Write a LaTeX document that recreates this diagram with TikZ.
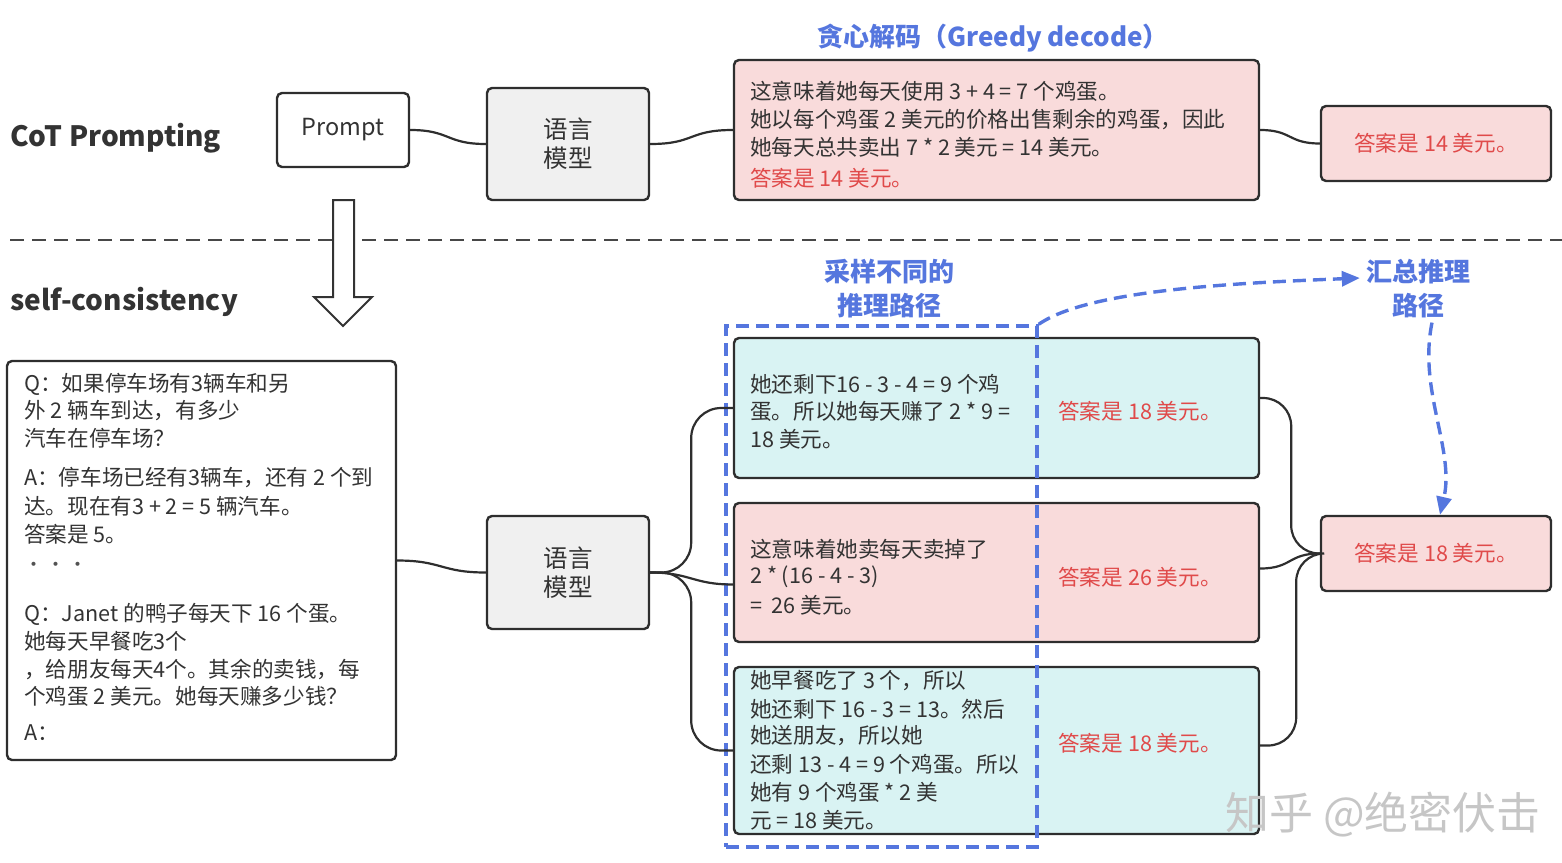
\documentclass[tikz,border=0pt]{standalone}
\usepackage{fontspec}
\setmainfont{Noto Sans CJK SC}
\usetikzlibrary{arrows.meta}
\definecolor{ink}{HTML}{333333}
\definecolor{bord}{HTML}{2E2E2E}
\definecolor{blu}{HTML}{5576DE}
\definecolor{redt}{HTML}{E04A4A}
\definecolor{pinkf}{HTML}{F9DBDB}
\definecolor{cyanf}{HTML}{D9F3F3}
\definecolor{grayf}{HTML}{F0F0F0}
\begin{document}
\begin{tikzpicture}[x=1pt,y=-1pt,
  box/.style={draw=bord, line width=2.4pt, rounded corners=5pt, inner sep=0pt},
  conn/.style={draw=bord, line width=2.2pt},
  txt/.style={font=\fontsize{21.6}{27}\selectfont, text=ink, inner sep=0pt, anchor=west},
  anstxt/.style={font=\fontsize{21.6}{27}\selectfont, text=redt, inner sep=0pt},
  bluelbl/.style={font=\fontsize{26}{34}\selectfont\bfseries, text=blu, align=center, inner sep=0pt},
  bdash/.style={draw=blu, line width=3.4pt, dash pattern=on 13pt off 7pt},
  sect/.style={font=\fontsize{28}{34}\selectfont\bfseries, text=ink, inner sep=0pt, anchor=west},
]
\useasboundingbox (0,0) rectangle (1562,862);

% divider
\draw[draw=ink!90, line width=2.2pt, dash pattern=on 14pt off 8pt] (10,240) -- (1562,240);

% section titles
\node[sect] (cot) at (10,138) {CoT Prompting};
\node[sect] (sc) at (10,302) {self-consistency};

% hollow arrow
\draw[draw=ink, line width=2pt, fill=white, line join=miter]
  (333,200) -- (354,200) -- (354,297) -- (372,297) -- (343,326) -- (314,297) -- (333,297) -- cycle;

% ---- top row ----
\node[box, fill=white, minimum width=132pt, minimum height=74pt,
      font=\fontsize{23.5}{28}\selectfont, text=ink] (prompt) at (343,130) {Prompt};
\node[box, fill=grayf, minimum width=162pt, minimum height=112pt, align=center,
      font=\fontsize{24.5}{29}\selectfont, text=ink] (lm1) at (568,144) {语言\\模型};
\node[box, fill=pinkf, minimum width=525pt, minimum height=140pt] (greedy) at (996.5,130) {};
\node[box, fill=pinkf, minimum width=230pt, minimum height=75pt,
      font=\fontsize{21.6}{27}\selectfont, text=redt] (ans1) at (1436,143.5) {答案是 14 美元。};
\node[bluelbl] (gtitle) at (993,38) {贪心解码（Greedy decode）};

\node[txt] (g1) at (750,91) {这意味着她每天使用 3 + 4 = 7 个鸡蛋。};
\node[txt] (g2) at (750,119) {她以每个鸡蛋 2 美元的价格出售剩余的鸡蛋，因此};
\node[txt] (g3) at (750,147) {她每天总共卖出 7 * 2 美元 = 14 美元。};
\node[txt, text=redt] (g4) at (750,178) {答案是 14 美元。};

\draw[conn] (prompt.east) .. controls +(40,0) and +(-40,0) .. (lm1.west);
\draw[conn] (lm1.east) .. controls +(45,0) and +(-45,0) .. (greedy.west);
\draw[conn] (greedy.east) .. controls +(32,0) and +(-32,0) .. (ans1.west);

% ---- bottom row ----
\node[box, fill=white, minimum width=389pt, minimum height=399pt] (left) at (201.5,560.5) {};
\foreach \s/\yy [count=\i] in {
  {Q：如果停车场有3辆车和另}/384,
  {外 2 辆车到达，有多少}/411,
  {汽车在停车场？}/438,
  {A：停车场已经有3辆车，还有 2 个到}/478,
  {达。现在有3 + 2 = 5 辆汽车。}/506,
  {答案是 5。}/534,
  {Q：Janet 的鸭子每天下 16 个蛋。}/614,
  {她每天早餐吃3个}/641,
  {，给朋友每天4个。其余的卖钱，每}/669,
  {个鸡蛋 2 美元。她每天赚多少钱？}/696,
  {A：}/733}
  \node[txt, name=q\i] at (24,\yy) {\s};
\node[txt, font=\fontsize{19}{20}\selectfont, text=ink!85] (dots) at (24,567) {•\,•\,•};

\node[box, fill=grayf, minimum width=162pt, minimum height=113pt, align=center,
      font=\fontsize{24.5}{29}\selectfont, text=ink] (lm2) at (568,572.5) {语言\\模型};

\node[box, fill=cyanf, minimum width=525pt, minimum height=140pt] (p1) at (996.5,408) {};
\node[box, fill=pinkf, minimum width=525pt, minimum height=139pt] (p2) at (996.5,572.5) {};
\node[box, fill=cyanf, minimum width=525pt, minimum height=167pt] (p3) at (996.5,750.5) {};
\node[box, fill=pinkf, minimum width=230pt, minimum height=75pt,
      font=\fontsize{21.6}{27}\selectfont, text=redt] (fin) at (1436,553.5) {答案是 18 美元。};

% sampling frame
\node[bdash, minimum width=311pt, minimum height=521pt, inner sep=0pt] (samp) at (881.5,586.5) {};

\foreach \s/\yy [count=\i] in {
  {她还剩下16 - 3 - 4 = 9 个鸡}/384,
  {蛋。所以她每天赚了 2 * 9 =}/411,
  {18 美元。}/439}
  \node[txt, name=a\i] at (750,\yy) {\s};
\foreach \s/\yy [count=\i] in {
  {这意味着她卖每天卖掉了}/549,
  {2 * (16 - 4 - 3)}/577,
  {=\ \ 26 美元。}/605}
  \node[txt, name=b\i] at (750,\yy) {\s};
\foreach \s/\yy [count=\i] in {
  {她早餐吃了 3 个，所以}/681,
  {她还剩下 16 - 3 = 13。然后}/709,
  {她送朋友，所以她}/736,
  {还剩 13 - 4 = 9 个鸡蛋。所以}/764,
  {她有 9 个鸡蛋 * 2 美}/792,
  {元 = 18 美元。}/820}
  \node[txt, name=c\i] at (750,\yy) {\s};

\node[anstxt] (r1) at (1140,411) {答案是 18 美元。};
\node[anstxt] (r2) at (1140,577) {答案是 26 美元。};
\node[anstxt] (r3) at (1140,743) {答案是 18 美元。};

% connectors bottom
\draw[conn] (left.east) .. controls +(45,0) and +(-45,0) .. (lm2.west);
\draw[conn, rounded corners=30pt] (lm2.east) -- ++(41,0) |- (p1.west);
\draw[conn] (lm2.east) .. controls +(40,0) and +(-40,0) .. ([yshift=-12pt]p2.west);
\draw[conn, rounded corners=30pt] (lm2.east) -- ++(41,0) |- (p3.west);
\draw[conn, rounded corners=28pt] ([yshift=10pt]p1.east) -- ++(31,0) |- (fin.west);
\draw[conn] ([yshift=4pt]p2.east) .. controls +(32,0) and +(-32,0) .. (fin.west);
\draw[conn, rounded corners=28pt] ([yshift=5pt]p3.east) -- ++(36,0) |- (fin.west);

% blue labels
\node[bluelbl] (samplbl) at (889,289) {采样不同的\\推理路径};
\node[bluelbl] (sumlbl) at (1418,289) {汇总推理\\路径};

\draw[bdash, -{Triangle[length=18pt,width=15pt]}]
  (samp.north east) .. controls +(50,-35) and +(-120,5) .. ([yshift=11pt,xshift=-6pt]sumlbl.west);
\draw[bdash, -{Triangle[length=18pt,width=15pt]}]
  ([xshift=14pt,yshift=-4pt]sumlbl.south) .. controls +(-14,68) and +(15,-65) .. ([xshift=4pt]fin.north);

% watermark
\node[font=\fontsize{44}{50}\selectfont, text=gray!45, inner sep=0pt] (wm) at (1383,815) {知乎 @绝密伏击};
\end{tikzpicture}
\end{document}
